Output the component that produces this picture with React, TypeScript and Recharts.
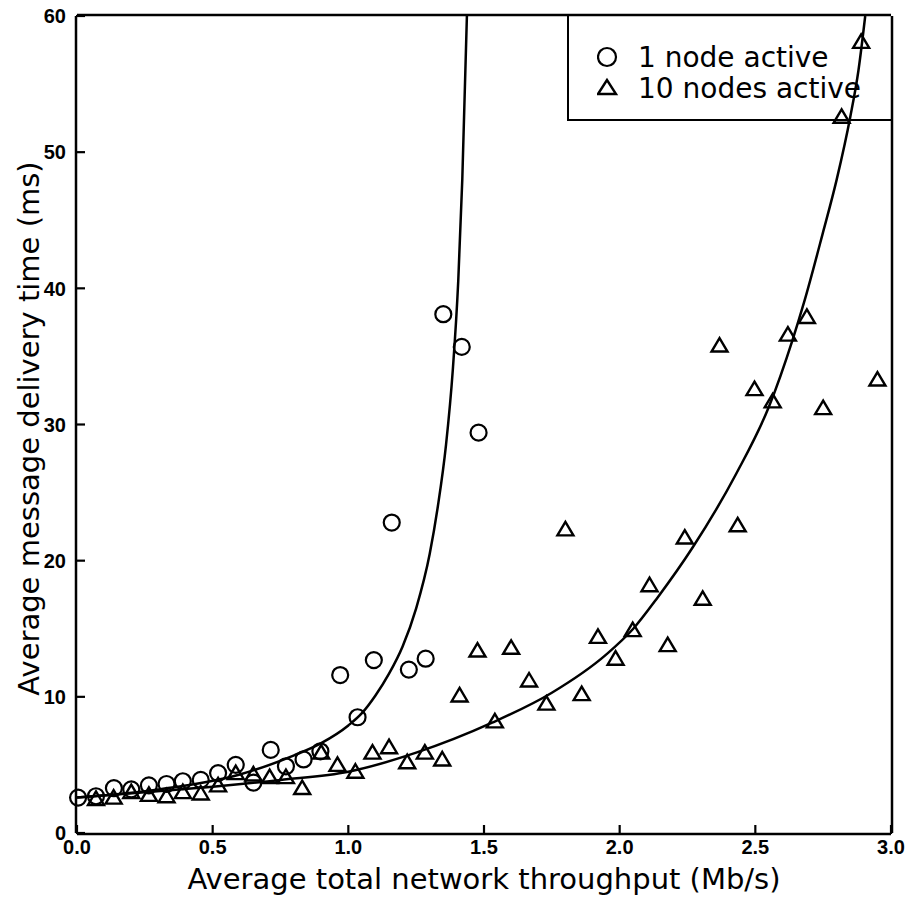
import { ComposedChart, Legend, Line, Scatter, XAxis, YAxis } from "recharts";

// 1 node active (circles)
const oneNodeX = [0.004, 0.07, 0.136, 0.2, 0.265, 0.33, 0.39, 0.456, 0.52, 0.585, 0.65, 0.714, 0.77, 0.835, 0.897, 0.97, 1.034, 1.094, 1.16, 1.223, 1.285, 1.35, 1.418, 1.48];
const oneNodeY = [2.6, 2.7, 3.3, 3.2, 3.5, 3.6, 3.8, 3.9, 4.4, 5.0, 3.7, 6.1, 4.9, 5.4, 6.0, 11.6, 8.5, 12.7, 22.8, 12.0, 12.8, 38.1, 35.7, 29.4];

// 10 nodes active (triangles)
const tenNodesX = [0.07, 0.135, 0.2, 0.265, 0.33, 0.39, 0.456, 0.52, 0.585, 0.65, 0.71, 0.77, 0.83, 0.9, 0.96, 1.026, 1.089, 1.15, 1.217, 1.282, 1.346, 1.41, 1.476, 1.54, 1.6, 1.666, 1.73, 1.8, 1.86, 1.92, 1.985, 2.048, 2.11, 2.177, 2.24, 2.306, 2.368, 2.435, 2.497, 2.564, 2.62, 2.69, 2.75, 2.818, 2.89, 2.95];
const tenNodesY = [2.5, 2.6, 3.0, 2.8, 2.7, 3.0, 2.9, 3.5, 4.4, 4.3, 4.1, 4.1, 3.3, 5.9, 5.0, 4.5, 5.9, 6.3, 5.2, 5.9, 5.4, 10.1, 13.4, 8.2, 13.6, 11.2, 9.5, 22.3, 10.2, 14.4, 12.8, 14.9, 18.2, 13.8, 21.7, 17.2, 35.8, 22.6, 32.6, 31.7, 36.6, 37.9, 31.2, 52.6, 58.1, 33.3];

// fitted curves
const fit1X = [0, 0.3, 0.6, 0.8, 0.9, 1.0, 1.05, 1.1, 1.15, 1.2, 1.25, 1.3, 1.33, 1.36, 1.385, 1.405, 1.42, 1.437];
const fit1Y = [2.6, 3.2, 4.3, 5.7, 6.6, 7.9, 8.8, 10.1, 11.7, 13.7, 16.5, 20.5, 24.0, 28.5, 34.0, 40.5, 48.0, 60];
const fit2X = [0, 0.25, 0.5, 0.75, 1.0, 1.25, 1.53, 1.75, 1.95, 2.05, 2.14, 2.27, 2.43, 2.55, 2.637, 2.68, 2.748, 2.8, 2.85, 2.88, 2.905];
const fit2Y = [2.6, 3.0, 3.4, 3.9, 4.5, 5.9, 8.1, 10.3, 13.1, 15.0, 17.3, 21.0, 26.4, 31.3, 36.2, 39.0, 44.0, 48.0, 52.6, 56.0, 60];

const xMajor = [0, 0.5, 1, 1.5, 2, 2.5, 3];
const xMinor = [0.25, 0.75, 1.25, 1.75, 2.25, 2.75];
const yMajor = [0, 10, 20, 30, 40, 50, 60];
const yMinor = [5, 15, 25, 35, 45, 55];

const zip = (xs: number[], ys: number[]) => xs.map((x, i) => ({ x, y: ys[i] }));
const oneNode = zip(oneNodeX, oneNodeY);
const tenNodes = zip(tenNodesX, tenNodesY);
const fit1 = zip(fit1X, fit1Y);
const fit2 = zip(fit2X, fit2Y);

const tickFont = { fontFamily: "'Liberation Sans', Arial, sans-serif", fontWeight: 700, fontSize: 20 };
const titleFont = "'DejaVu Sans', sans-serif";
const axisLine = { stroke: "#000", strokeWidth: 2.5 };
const tickLine = { stroke: "#000", strokeWidth: 2.2 };

// tick lines point inwards (negative tickSize), so labels are pushed back out here
const BottomLabel = ({ x, y, payload }: any) => (
  <text x={x} y={y + 29} textAnchor="middle" fill="#000" style={tickFont}>
    {Number(payload.value).toFixed(1)}
  </text>
);

const LeftLabel = ({ x, y, payload }: any) => (
  <text x={x - 19} y={y} dy="0.36em" textAnchor="end" fill="#000" style={tickFont}>
    {payload.value}
  </text>
);

const CircleMark = ({ cx, cy }: any) => (
  <circle cx={cx} cy={cy} r={8} fill="none" stroke="#000" strokeWidth={2.2} />
);

const TriangleMark = ({ cx, cy }: any) => (
  <polygon
    points={`${cx},${cy - 7.5} ${cx - 8},${cy + 6} ${cx + 8},${cy + 6}`}
    fill="none"
    stroke="#000"
    strokeWidth={2.4}
  />
);

const LegendBox = () => (
  <div
    style={{
      position: "relative",
      width: 324,
      height: 105,
      boxSizing: "border-box",
      borderLeft: "2.5px solid #000",
      borderBottom: "2.5px solid #000",
      fontFamily: titleFont,
      fontSize: 28,
      color: "#000",
    }}
  >
    <svg width={30} height={90} style={{ position: "absolute", left: 28, top: 0 }}>
      <circle cx={10} cy={41} r={9} fill="none" stroke="#000" strokeWidth={2.2} />
      <polygon points="10,64 1,78 19,78" fill="none" stroke="#000" strokeWidth={2.4} />
    </svg>
    <div style={{ position: "absolute", left: 69, top: 23, lineHeight: "38px", whiteSpace: "nowrap" }}>1 node active</div>
    <div style={{ position: "absolute", left: 69, top: 54, lineHeight: "38px", whiteSpace: "nowrap" }}>10 nodes active</div>
  </div>
);

export default function App() {
  return (
    <ComposedChart width={900} height={890} margin={{ top: 6, right: 15, left: 0, bottom: 0 }}>
      <XAxis
        xAxisId="bottom"
        dataKey="x"
        type="number"
        domain={[0, 3]}
        ticks={xMajor}
        interval={0}
        height={64}
        tickSize={-9}
        tickMargin={0}
        tickLine={tickLine}
        tick={<BottomLabel />}
        axisLine={axisLine}
        label={{
          value: "Average total network throughput (Mb/s)",
          position: "insideBottom",
          offset: 9,
          fill: "#000",
          style: { fontFamily: titleFont, fontSize: 29 },
        }}
      />
      <XAxis xAxisId="top" orientation="top" dataKey="x" type="number" domain={[0, 3]} ticks={xMajor} interval={0}
        height={1} tickSize={-9} tickLine={tickLine} tick={false} axisLine={axisLine} />
      <YAxis
        yAxisId="left"
        dataKey="y"
        type="number"
        domain={[0, 60]}
        ticks={yMajor}
        interval={0}
        width={68}
        tickSize={-9}
        tickMargin={0}
        tickLine={tickLine}
        tick={<LeftLabel />}
        axisLine={axisLine}
        label={{
          content: ({ viewBox }: any) => (
            <text
              transform={`translate(${viewBox.x + viewBox.width - 37},${viewBox.y + viewBox.height / 2 + 4}) rotate(-90)`}
              textAnchor="middle"
              fill="#000"
              style={{ fontFamily: titleFont, fontSize: 29 }}
            >
              Average message delivery time (ms)
            </text>
          ),
        }}
      />
      <YAxis yAxisId="right" orientation="right" dataKey="y" type="number" domain={[0, 60]} ticks={yMajor} interval={0}
        width={1} tickSize={-9} tickLine={tickLine} tick={false} axisLine={axisLine} />

      {/* minor ticks on all four sides (axes need a non-zero size to be drawn) */}
      <XAxis xAxisId="bMinor" dataKey="x" type="number" domain={[0, 3]} ticks={xMinor} interval={0}
        height={1} tickSize={-6} tickLine={tickLine} tick={false} axisLine={false} />
      <XAxis xAxisId="tMinor" orientation="top" dataKey="x" type="number" domain={[0, 3]} ticks={xMinor} interval={0}
        height={1} tickSize={-6} tickLine={tickLine} tick={false} axisLine={false} />
      <YAxis yAxisId="lMinor" dataKey="y" type="number" domain={[0, 60]} ticks={yMinor} interval={0}
        width={1} tickSize={-6} tickLine={tickLine} tick={false} axisLine={false} />
      <YAxis yAxisId="rMinor" orientation="right" dataKey="y" type="number" domain={[0, 60]} ticks={yMinor} interval={0}
        width={1} tickSize={-6} tickLine={tickLine} tick={false} axisLine={false} />

      <Legend
        layout="vertical"
        align="center"
        verticalAlign="middle"
        content={() => <LegendBox />}
        wrapperStyle={{ left: 559, top: 8, width: 324, height: 105 }}
      />
      <Line xAxisId="bottom" yAxisId="left" data={fit1} dataKey="y" type="monotone" stroke="#000"
        strokeWidth={2.5} dot={false} activeDot={false} legendType="none" isAnimationActive={false} />
      <Line xAxisId="bottom" yAxisId="left" data={fit2} dataKey="y" type="monotone" stroke="#000"
        strokeWidth={2.5} dot={false} activeDot={false} legendType="none" isAnimationActive={false} />
      <Scatter xAxisId="bottom" yAxisId="left" name="1 node active" data={oneNode} dataKey="y"
        shape={<CircleMark />} isAnimationActive={false} />
      <Scatter xAxisId="bottom" yAxisId="left" name="10 nodes active" data={tenNodes} dataKey="y"
        shape={<TriangleMark />} isAnimationActive={false} />
    </ComposedChart>
  );
}
